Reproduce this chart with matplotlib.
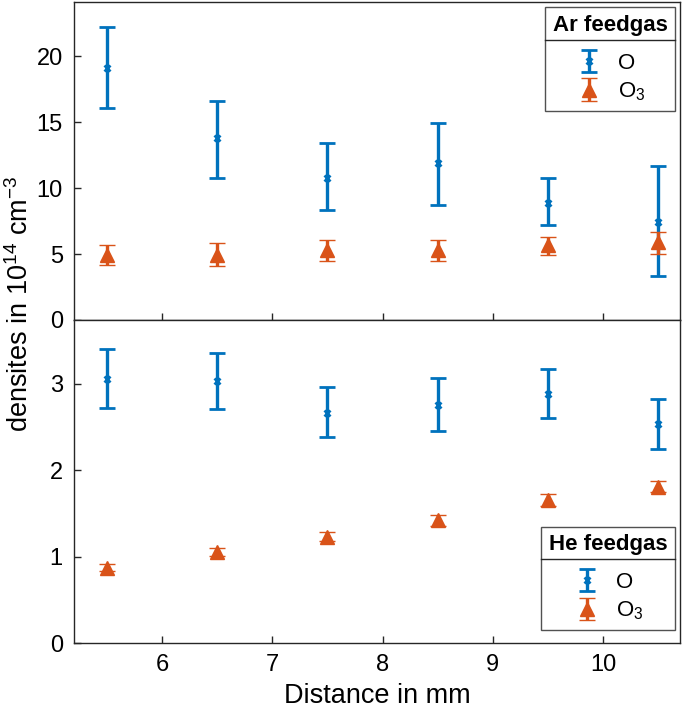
import matplotlib

matplotlib.use("Agg")
import matplotlib.pyplot as plt
from matplotlib.lines import Line2D

plt.rcParams["font.family"] = ["Liberation Sans", "DejaVu Sans"]
plt.rcParams["mathtext.fontset"] = "custom"
plt.rcParams["mathtext.rm"] = "Liberation Sans"

BLUE = "#0072BD"
ORANGE = "#D95319"
AXIS = "#262626"

distance = [5.5, 6.5, 7.5, 8.5, 9.5, 10.5]

# Ar feedgas (10^14 cm^-3): value, lower bound, upper bound
ar_o = [19.1, 13.8, 10.8, 11.9, 8.9, 7.4]
ar_o_lo = [16.1, 10.8, 8.3, 8.7, 7.2, 3.3]
ar_o_hi = [22.2, 16.6, 13.4, 14.9, 10.8, 11.7]
ar_o3 = [4.9, 4.9, 5.3, 5.3, 5.7, 5.9]
ar_o3_lo = [4.2, 4.1, 4.5, 4.5, 4.9, 5.0]
ar_o3_hi = [5.7, 5.8, 6.1, 6.1, 6.3, 6.7]

# He feedgas
he_o = [3.06, 3.03, 2.66, 2.76, 2.88, 2.53]
he_o_lo = [2.72, 2.71, 2.38, 2.45, 2.60, 2.25]
he_o_hi = [3.40, 3.36, 2.96, 3.07, 3.17, 2.82]
he_o3 = [0.87, 1.05, 1.23, 1.42, 1.66, 1.81]
he_o3_lo = [0.83, 1.01, 1.18, 1.35, 1.59, 1.75]
he_o3_hi = [0.92, 1.10, 1.29, 1.48, 1.73, 1.88]


def yerr(val, lo, hi):
    return [[v - l for v, l in zip(val, lo)], [h - v for v, h in zip(val, hi)]]


fig = plt.figure(figsize=(6.85, 7.11), dpi=100)
ax1 = fig.add_axes([0.108, 0.550, 0.885, 0.447])
ax2 = fig.add_axes([0.108, 0.0956, 0.885, 0.4544])


def draw_panel(ax, o, o_lo, o_hi, o3, o3_lo, o3_hi, title, loc, anchor):
    ax.errorbar(distance, o, yerr=yerr(o, o_lo, o_hi), fmt="x", color=BLUE,
                ms=5, mew=2, elinewidth=2.4, capsize=6, capthick=2.4, label="O")
    ax.errorbar(distance, o3, yerr=yerr(o3, o3_lo, o3_hi), fmt="^", color=ORANGE,
                ms=10, mew=1, elinewidth=2.4, capsize=6, capthick=2.4,
                label=r"O$_3$")
    ax.set_xlim(5.2, 10.7)
    ax.set_xticks([6, 7, 8, 9, 10])
    ax.tick_params(direction="in", length=5, width=1, colors=AXIS,
                   labelcolor="black", labelsize=17, top=False, right=False,
                   pad=8)
    for s in ax.spines.values():
        s.set_color(AXIS)
        s.set_linewidth(1)
    leg = ax.legend(loc=loc, bbox_to_anchor=anchor, title=title, fontsize=16,
                    frameon=True, fancybox=False, edgecolor=AXIS,
                    borderaxespad=0, handlelength=1.2, handletextpad=0.7,
                    labelspacing=0.3, alignment="center", borderpad=0.35,
                    title_fontproperties={"weight": "bold", "size": 16})
    leg.get_frame().set_linewidth(1)
    leg._legend_box.sep = 12
    return leg


leg1 = draw_panel(ax1, ar_o, ar_o_lo, ar_o_hi, ar_o3, ar_o3_lo, ar_o3_hi,
                  "Ar feedgas", "upper right", (0.992, 0.984))
ax1.set_ylim(0, 24.1)
ax1.set_yticks([0, 5, 10, 15, 20])
ax1.tick_params(labelbottom=False)

leg2 = draw_panel(ax2, he_o, he_o_lo, he_o_hi, he_o3, he_o3_lo, he_o3_hi,
                  "He feedgas", "lower right", (0.992, 0.04))
ax2.set_ylim(0, 3.74)
ax2.set_yticks([0, 1, 2, 3])
ax2.set_xlabel("Distance in mm", fontsize=19.5, color="black", labelpad=5)

fig.text(0.03, 0.572, r"densites in 10$^{14}$ cm$^{-3}$", rotation=90,
         ha="center", va="center", fontsize=19.5)

# separator line under the legend titles
fig.canvas.draw()
for leg in (leg1, leg2):
    box = leg.get_window_extent()
    tb = leg.get_title().get_window_extent()
    y = tb.y0 - 4
    line = Line2D([box.x0, box.x1], [y, y], color=AXIS, linewidth=1,
                  transform=None)
    fig.add_artist(line)

fig.savefig("out.png", dpi=100)
